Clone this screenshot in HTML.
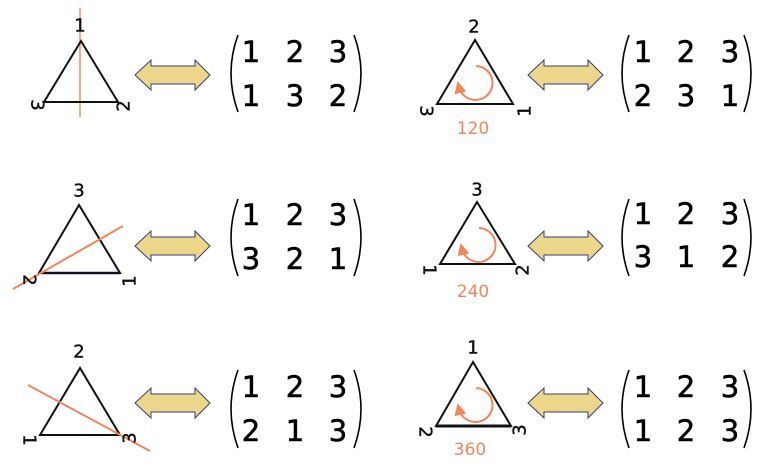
<!DOCTYPE html>
<html><head><meta charset="utf-8"><style>
html,body{margin:0;padding:0;background:#fff;width:760px;height:473px;overflow:hidden}
svg{display:block}
text{font-family:"DejaVu Sans","Liberation Sans",sans-serif}
.num{font-size:29px;fill:#000;text-anchor:middle;dominant-baseline:central;stroke:#000;stroke-width:0.6}
.lbl{font-size:18px;fill:#111;text-anchor:middle;dominant-baseline:central;stroke:#111;stroke-width:0.4}
.deg{font-size:17px;fill:#f7845a;text-anchor:middle;dominant-baseline:central}
.tri{fill:none;stroke:#111;stroke-width:2}
.paren{fill:none;stroke:#000;stroke-width:1.6}
.arr{fill:#ecd68a;stroke:#3a3a7a;stroke-width:1}
.ax{stroke:#f7845a;stroke-width:2}
.rot{fill:none;stroke:#f7845a;stroke-width:2}
</style></head><body>
<svg width="760" height="473" viewBox="0 0 760 473">
<defs>
<marker id="ah" markerWidth="6" markerHeight="6" refX="3" refY="3" orient="auto"><path d="M0,0 L6,3 L0,6 z" fill="#f7845a"/></marker>
</defs>

<g>
<line class="ax" x1="80" y1="8" x2="80" y2="117" stroke-opacity="0.7"/>
<polygon class="tri" points="81,41 44,102 118,102"/>
<text class="lbl" x="80" y="26">1</text>
<text class="lbl" x="37" y="105" transform="rotate(90 37 105)">3</text>
<text class="lbl" x="124" y="106" transform="rotate(-90 124 106)">2</text>
</g>
<path class="arr" d="M135,75 L151,60 L151,66 L195,66 L195,60 L210,75 L195,90 L195,84 L151,84 L151,90 Z"/>
<g>
<path class="paren" d="M238,35 Q224,73 238,112"/><path class="paren" d="M354,35 Q368,73 354,112"/>
<text class="num" x="251" y="52">1</text><text class="num" x="295" y="52">2</text><text class="num" x="338" y="52">3</text>
<text class="num" x="251" y="96">1</text><text class="num" x="295" y="96">3</text><text class="num" x="338" y="96">2</text>
</g>

<g>
<polygon class="tri" points="475,40 437,104 513,104"/>
<text class="lbl" x="474" y="27">2</text>
<text class="lbl" x="426" y="111" transform="rotate(90 426 111)">3</text>
<text class="lbl" x="525" y="111" transform="rotate(-90 525 111)">1</text>
<path class="rot" d="M476,66 A17,17 0 1,1 459,87" marker-end="url(#ah)"/>
<text class="deg" x="473" y="129">120</text>
</g>
<path class="arr" d="M528,75 L544,60 L544,66 L588,66 L588,60 L603,75 L588,90 L588,84 L544,84 L544,90 Z"/>
<g>
<path class="paren" d="M629,35 Q615,73 629,112"/><path class="paren" d="M744,35 Q758,73 744,112"/>
<text class="num" x="643" y="52">1</text><text class="num" x="686" y="52">2</text><text class="num" x="730" y="52">3</text>
<text class="num" x="643" y="96">2</text><text class="num" x="686" y="96">3</text><text class="num" x="730" y="96">1</text>
</g>

<g>
<line x1="39" y1="273" x2="120" y2="273" stroke="#8888dd" stroke-width="3"/>
<polygon class="tri" points="79,205 39,273 120,273"/>
<line class="ax" x1="13" y1="289" x2="123" y2="226"/>
<text class="lbl" x="79" y="191">3</text>
<text class="lbl" x="29" y="280" transform="rotate(90 29 280)">2</text>
<text class="lbl" x="130" y="281" transform="rotate(-90 130 281)">1</text>
</g>
<path class="arr" d="M135,246 L151,231 L151,237 L195,237 L195,231 L210,246 L195,261 L195,255 L151,255 L151,261 Z"/>
<g>
<path class="paren" d="M238,199 Q224,237 238,276"/><path class="paren" d="M354,199 Q368,237 354,276"/>
<text class="num" x="251" y="215">1</text><text class="num" x="295" y="215">2</text><text class="num" x="338" y="215">3</text>
<text class="num" x="251" y="259">3</text><text class="num" x="295" y="259">2</text><text class="num" x="338" y="259">1</text>
</g>

<g>
<polygon class="tri" points="477,202 440,264 515,264"/>
<text class="lbl" x="477" y="190">3</text>
<text class="lbl" x="429" y="270" transform="rotate(90 429 270)">1</text>
<text class="lbl" x="523" y="270" transform="rotate(-90 523 270)">2</text>
<path class="rot" d="M479,228 A17,17 0 1,1 462,249" marker-end="url(#ah)"/>
<text class="deg" x="473" y="292">240</text>
</g>
<path class="arr" d="M528,246 L544,231 L544,237 L588,237 L588,231 L603,246 L588,261 L588,255 L544,255 L544,261 Z"/>
<g>
<path class="paren" d="M629,199 Q615,237 629,276"/><path class="paren" d="M744,199 Q758,237 744,276"/>
<text class="num" x="643" y="214">1</text><text class="num" x="686" y="214">2</text><text class="num" x="730" y="214">3</text>
<text class="num" x="643" y="257">3</text><text class="num" x="686" y="257">1</text><text class="num" x="730" y="257">2</text>
</g>

<g>
<polygon class="tri" points="80,368 40,435 120,435"/>
<line class="ax" x1="28" y1="385" x2="150" y2="451"/>
<text class="lbl" x="79" y="352">2</text>
<text class="lbl" x="29" y="440" transform="rotate(90 29 440)">1</text>
<text class="lbl" x="130" y="438" transform="rotate(-90 130 438)">3</text>
</g>
<path class="arr" d="M135,403 L151,388 L151,394 L195,394 L195,388 L210,403 L195,418 L195,412 L151,412 L151,418 Z"/>
<g>
<path class="paren" d="M238,370 Q224,409 238,448"/><path class="paren" d="M354,370 Q368,409 354,448"/>
<text class="num" x="251" y="387">1</text><text class="num" x="295" y="387">2</text><text class="num" x="338" y="387">3</text>
<text class="num" x="251" y="431">2</text><text class="num" x="295" y="431">1</text><text class="num" x="338" y="431">3</text>
</g>

<g>
<line x1="436" y1="426" x2="511" y2="426" stroke="#888" stroke-width="4"/>
<polygon class="tri" points="473,362 436,426 511,426"/>
<text class="lbl" x="473" y="348">1</text>
<text class="lbl" x="425" y="432" transform="rotate(90 425 432)">2</text>
<text class="lbl" x="520" y="430" transform="rotate(-90 520 430)">3</text>
<path class="rot" d="M476,388 A17,17 0 1,1 459,409" marker-end="url(#ah)"/>
<text class="deg" x="470" y="450">360</text>
</g>
<path class="arr" d="M528,403 L544,388 L544,394 L588,394 L588,388 L603,403 L588,418 L588,412 L544,412 L544,418 Z"/>
<g>
<path class="paren" d="M629,370 Q615,409 629,448"/><path class="paren" d="M744,370 Q758,409 744,448"/>
<text class="num" x="643" y="387">1</text><text class="num" x="686" y="387">2</text><text class="num" x="730" y="387">3</text>
<text class="num" x="643" y="431">1</text><text class="num" x="686" y="431">2</text><text class="num" x="730" y="431">3</text>
</g>
</svg>
</body></html>
